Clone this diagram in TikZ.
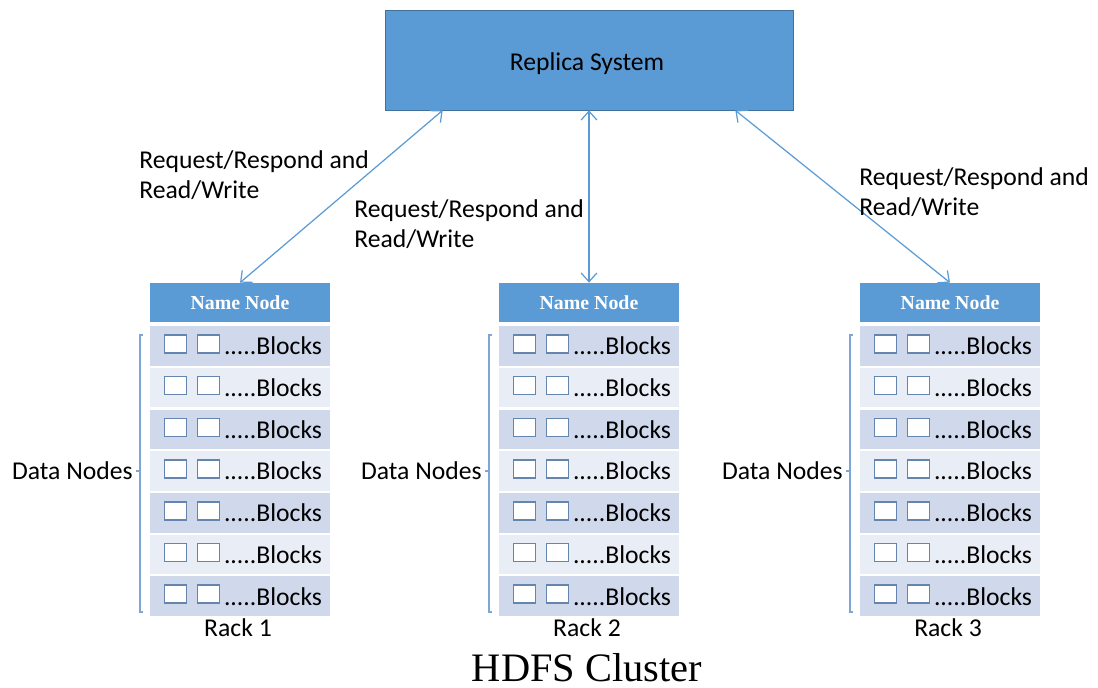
\documentclass[tikz,border=0pt]{standalone}
\usepackage{fontspec}
\setmainfont{Carlito}
\newfontfamily\timesfont{Liberation Serif}
\usetikzlibrary{arrows.meta,calc}
\definecolor{boxblue}{HTML}{5B9BD5}
\definecolor{boxedge}{HTML}{41719C}
\definecolor{rowdark}{HTML}{CFD9EB}
\definecolor{rowlight}{HTML}{E9EDF6}
\definecolor{blkedge}{HTML}{6485AE}
\definecolor{bracecol}{HTML}{7FA7D6}

\begin{document}
\begin{tikzpicture}[x=0.02cm,y=-0.02cm]
\tikzstyle{every node}+=[inner sep=0pt, font=\fontsize{14.6}{17}\selectfont]
\tikzstyle{replica}=[draw=boxedge, fill=boxblue, minimum width=8.16cm, minimum height=2cm]
\tikzstyle{namenode}=[fill=boxblue, minimum width=3.6cm, minimum height=0.78cm, text=white, font=\timesfont\bfseries\fontsize{11.3}{13}\selectfont]
\tikzstyle{rowbox}=[minimum width=3.6cm, minimum height=0.79cm]
\tikzstyle{blk}=[draw=blkedge, line width=0.9pt, fill=white, minimum width=0.44cm, minimum height=0.36cm]
\tikzstyle{link}=[draw=boxblue, line width=0.7pt, arrows={Straight Barb[length=5pt,width=9pt]-Straight Barb[length=5pt,width=9pt]}]
\tikzstyle{brace}=[draw=bracecol, line width=0.7pt]
\useasboundingbox (0,0) rectangle (1098,688);

\node[replica] (rs) at (589,60) {};
\node (rstext) at (587,64) {Replica System};

% racks
\foreach \k/\x in {1/240,2/589,3/950} {
  \node[namenode] (nn\k) at (\x,302.5) {Name Node};
  \foreach \i/\c in {1/rowdark,2/rowlight,3/rowdark,4/rowlight,5/rowdark,6/rowlight,7/rowdark} {
    \node[rowbox, fill=\c] (r\k-\i) at (\x,{346+(\i-1)*41.7}) {};
    \node[blk] (b\k-\i-1) at ($(r\k-\i.west)+(26,-2)$) {};
    \node[blk] (b\k-\i-2) at ($(r\k-\i.west)+(59,-2)$) {};
    \node[anchor=west] (t\k-\i) at ($(r\k-\i.west)+(74,0)$) {.....Blocks};
  }
  \draw[brace] (\x-97,335) -- (\x-100,335) -- (\x-100,612) -- (\x-97,612);
  \draw[brace] (\x-100,471) -- (\x-104,471);
  \node[anchor=east] (dn\k) at (\x-107,471) {Data Nodes};
  \node (rk\k) at (\x-2,628) {Rack \k};
}

% links
\draw[link] ($(rs.south west)+(58,0)$) -- (nn1.north);
\draw[link] (rs.south) -- (nn2.north);
\draw[link] ($(rs.south east)+(-58,0)$) -- (nn3.north);

\node[anchor=west, align=left] (l1) at (139,175) {Request/Respond and\\Read/Write};
\node[anchor=west, align=left] (l2) at (354,224) {Request/Respond and\\Read/Write};
\node[anchor=west, align=left] (l3) at (859,192) {Request/Respond and\\Read/Write};

\node (hdfs) at (587,668) {\timesfont\fontsize{23}{26}\selectfont HDFS Cluster};
\end{tikzpicture}
\end{document}
